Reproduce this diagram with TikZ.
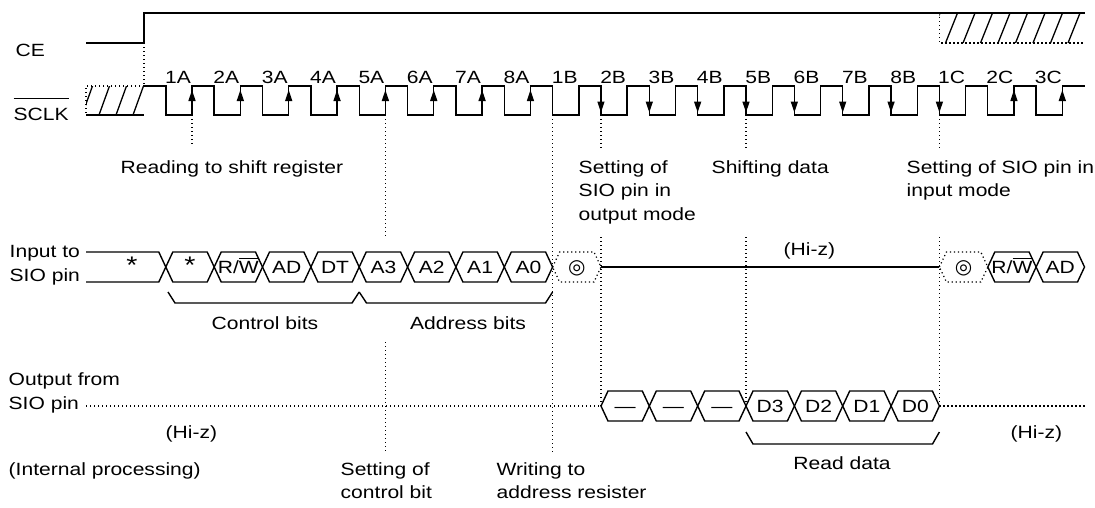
\documentclass[tikz,border=0pt]{standalone}
\usepackage{fontspec}
\setmainfont{Liberation Sans}[FakeStretch=1.19]
\newfontfamily\symfont{DejaVu Sans}
\usetikzlibrary{arrows.meta}

% text with a bar over it
\newcommand{\barred}[2][2pt]{\vbox{\hrule height 1.3pt\kern#1\hbox{#2}}}
% one bit cell of a bus: [style]{name}{x left}{x right}{y}{text}
\newcommand{\buscell}[6][]{%
  \draw[#1] (#3,#5) -- ({#3+7},{#5-15}) -- ({#4-7},{#5-15}) -- (#4,#5) -- ({#4-7},{#5+15}) -- ({#3+7},{#5+15}) -- cycle;
  \node[cell_text] (#2) at ({(#3+#4)/2},#5) {#6};}

\begin{document}
\begin{tikzpicture}[x=1pt,y=-1pt,line width=1.4pt,
	every node/.style={inner sep=0pt,font=\fontsize{17.7}{23.5}\selectfont},
	sig_label/.style={anchor=base west,align=left},
	edge_label/.style={anchor=base},
	cell_text/.style={text height=12.7pt,text depth=0pt},
	guide/.style={line width=1.2pt,dash pattern=on 1.2pt off 2.8pt},
	hatch/.style={line width=1.3pt},
	edge_mark/.style={-{Triangle[length=11pt,width=7pt]}}]
	\useasboundingbox (0,0) rectangle (1095,507);

	% signal names (multi-line nodes sit on their last line)
	\node[sig_label] (ce) at (15,56) {CE};
	\node[sig_label] (sclk) at (13,120) {\barred[8.5pt]{SCLK}};
	\node[sig_label] (sio_in) at (9,281) {Input to\\SIO pin};
	\node[sig_label] (sio_out) at (8,409) {Output from\\SIO pin};
	\node[sig_label] (internal) at (8,475) {(Internal processing)};

	% CE
	\draw (86,43) -- (144,43) -- (144,13) -- (1085,13);
	\draw[guide] (939.4,13) -- (939.4,43) -- (1085,43);
	\begin{scope}
		\clip (939.4,13) rectangle (1085,43);
		\foreach \h in {0,...,8} \draw[hatch] ({928+17.5*\h},43) -- ({940+17.5*\h},13);
	\end{scope}

	% SCLK
	\draw[guide] (144,86) -- (86,86) -- (86,115);
	\draw (86,115) -- (144,115);
	\begin{scope}
		\clip (86,86) rectangle (144,115);
		\foreach \h in {0,...,3} \draw[hatch] ({82+17*\h},115) -- ({92.5+17*\h},86);
	\end{scope}
	\draw (144,86) \foreach \k in {0,...,18}{ -- ({165.8+48.35*\k},86) -- ({165.8+48.35*\k},115) -- ({192+48.35*\k},115) -- ({192+48.35*\k},86)} -- (1085,86);
	\foreach \lab [count=\k from 0] in {1A,2A,3A,4A,5A,6A,7A,8A,1B,2B,3B,4B,5B,6B,7B,8B,1C,2C,3C}
		\node[edge_label] (clk_\lab) at ({178+48.35*\k},83) {\lab};
	\foreach \k in {0,...,7,17,18}
		\draw[edge_mark] ({192+48.35*\k},104) -- ({192+48.35*\k},90);
	\foreach \k in {9,...,16}
		\draw[edge_mark] ({165.8+48.35*\k},98) -- ({165.8+48.35*\k},112.5);

	% guide lines
	\draw[guide] (144,43) -- (144,86);
	\draw[guide] (192,115) -- (192,145);
	\draw[guide] (385.4,115) -- (385.4,237);
	\draw[guide] (385.4,342) -- (385.4,452);
	\draw[guide] (552.6,115) -- (552.6,452);
	\foreach \gx in {601.0,746.0,939.4}{
		\draw[guide] (\gx,115) -- (\gx,150);
		\draw[guide] (\gx,237) -- (\gx,406);}

	% notes
	\node[sig_label] (shift_reg) at (120,173) {Reading to shift register};
	\node[sig_label] (out_mode) at (578,220) {Setting of\\SIO pin in\\output mode};
	\node[sig_label] (shifting) at (711,173) {Shifting data};
	\node[sig_label] (in_mode) at (906,196.5) {Setting of SIO pin in\\input mode};
	\node[sig_label] (set_ctrl) at (340,498.5) {Setting of\\control bit};
	\node[sig_label] (write_addr) at (496,498.5) {Writing to\\address resister};

	% input to SIO pin
	\draw (86,252) -- (158.8,252) -- (165.8,267) -- (158.8,282) -- (86,282);
	\node[cell_text] (star_a) at (132,267) {\fontsize{24}{24}\selectfont *};
	\buscell{star_b}{165.8}{214.2}{267}{\fontsize{24}{24}\selectfont *}
	\buscell{rw_a}{214.2}{262.5}{267}{R/\barred{W}}
	\buscell{ad_a}{262.5}{310.9}{267}{AD}
	\buscell{dt}{310.9}{359.2}{267}{DT}
	\buscell{a3}{359.2}{407.6}{267}{A3}
	\buscell{a2}{407.6}{455.9}{267}{A2}
	\buscell{a1}{455.9}{504.3}{267}{A1}
	\buscell{a0}{504.3}{552.6}{267}{A0}
	\buscell[guide]{turn_a}{552.6}{601.0}{267}{\symfont\fontsize{20}{20}\selectfont ◎}
	\draw (601.0,267) -- (939.4,267);
	\node[sig_label] (hiz_a) at (783,255) {(Hi-z)};
	\buscell[guide]{turn_b}{939.4}{987.8}{267}{\symfont\fontsize{20}{20}\selectfont ◎}
	\buscell{rw_b}{987.8}{1036.1}{267}{R/\barred{W}}
	\buscell{ad_b}{1036.1}{1084.5}{267}{AD}

	\draw (168,292) -- (175,303) -- (352,303) -- (359.2,292);
	\draw (359.2,292) -- (366.5,303) -- (545.5,303) -- (552.6,292);
	\node[edge_label] (ctrl_bits) at (265,329) {Control bits};
	\node[edge_label] (addr_bits) at (468,329) {Address bits};

	% output from SIO pin
	\draw[guide] (86,406) -- (601.0,406);
	\buscell{dash_a}{601.0}{649.3}{406}{---}
	\buscell{dash_b}{649.3}{697.7}{406}{---}
	\buscell{dash_c}{697.7}{746.0}{406}{---}
	\buscell{d3}{746.0}{794.4}{406}{D3}
	\buscell{d2}{794.4}{842.7}{406}{D2}
	\buscell{d1}{842.7}{891.1}{406}{D1}
	\buscell{d0}{891.1}{939.4}{406}{D0}
	\draw[guide] (939.4,406) -- (1085,406);
	\node[sig_label] (hiz_b) at (165,438) {(Hi-z)};
	\node[sig_label] (hiz_c) at (1010,438) {(Hi-z)};

	\draw (746,432) -- (753,444) -- (932.5,444) -- (939.4,432);
	\node[edge_label] (read_data) at (842,469) {Read data};
\end{tikzpicture}
\end{document}
